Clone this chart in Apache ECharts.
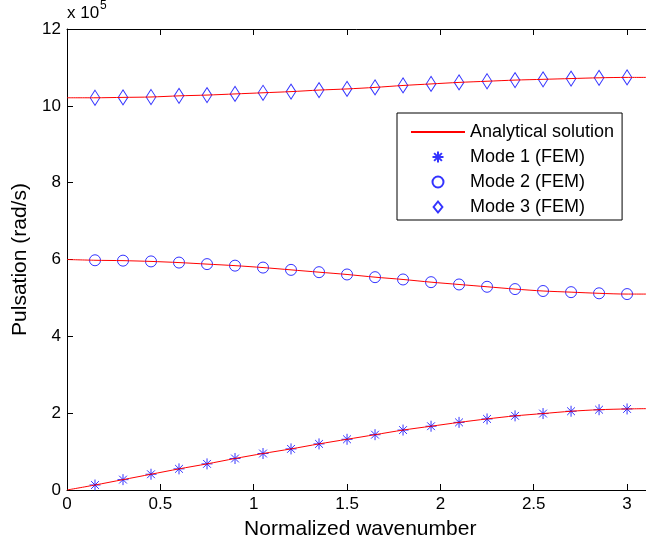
<!DOCTYPE html>
<html>
<head>
<meta charset="utf-8">
<script src="https://cdn.jsdelivr.net/npm/echarts@6/dist/echarts.min.js"></script>
<style>html,body{margin:0;padding:0;background:#fff}#c{width:646px;height:546px}</style>
</head>
<body>
<div id="c"></div>
<script>
// Units: 10^5 rad/s
const xTicks = [0, 0.5, 1, 1.5, 2, 2.5, 3];
const yTicks = [0, 2, 4, 6, 8, 10, 12];
const anaX = [0, 0.15, 0.3, 0.45, 0.6, 0.75, 0.9, 1.05, 1.2, 1.35, 1.5, 1.65, 1.8, 1.95, 2.1, 2.25, 2.4, 2.55, 2.7, 2.85, 3.0, Math.PI];
const anaMode1 = [0, 0.13, 0.27, 0.41, 0.55, 0.68, 0.82, 0.95, 1.07, 1.20, 1.32, 1.44, 1.56, 1.66, 1.76, 1.85, 1.93, 1.99, 2.05, 2.09, 2.11, 2.12];
const anaMode2 = [6.00, 5.98, 5.97, 5.95, 5.92, 5.88, 5.84, 5.79, 5.73, 5.67, 5.61, 5.54, 5.48, 5.41, 5.35, 5.29, 5.23, 5.18, 5.15, 5.12, 5.10, 5.10];
const anaMode3 = [10.21, 10.21, 10.22, 10.23, 10.26, 10.28, 10.31, 10.34, 10.37, 10.41, 10.44, 10.48, 10.53, 10.57, 10.61, 10.64, 10.67, 10.69, 10.71, 10.73, 10.74, 10.74];
const femX = [0.15, 0.3, 0.45, 0.6, 0.75, 0.9, 1.05, 1.2, 1.35, 1.5, 1.65, 1.8, 1.95, 2.1, 2.25, 2.4, 2.55, 2.7, 2.85, 3.0];
const femMode1 = [0.13, 0.27, 0.41, 0.55, 0.68, 0.82, 0.95, 1.07, 1.20, 1.32, 1.44, 1.56, 1.66, 1.76, 1.85, 1.93, 1.99, 2.05, 2.09, 2.11];
const femMode2 = [5.98, 5.97, 5.95, 5.92, 5.88, 5.84, 5.79, 5.73, 5.67, 5.61, 5.54, 5.48, 5.41, 5.35, 5.29, 5.23, 5.18, 5.15, 5.12, 5.10];
const femMode3 = [10.21, 10.22, 10.23, 10.26, 10.28, 10.31, 10.34, 10.37, 10.41, 10.44, 10.48, 10.53, 10.57, 10.61, 10.64, 10.67, 10.69, 10.71, 10.73, 10.74];

const FONT = 'Liberation Sans, Arial, Helvetica, sans-serif';
const BLUE = '#0000ff', RED = '#ff0000';
const zip = (xs, ys) => xs.map((x, i) => [x, ys[i]]);
const ASTER = 'path://M5 0L5 10M0 5L10 5M1.46 1.46L8.54 8.54M8.54 1.46L1.46 8.54';
const DIAMOND = 'path://M6 0L12 7.5L6 15L0 7.5Z';

function mkAxis(extra) {
  return Object.assign({
    axisLine: {show: true, lineStyle: {color: '#000', width: 1}},
    axisTick: {show: true, inside: true, length: 6, lineStyle: {color: '#000', width: 1}},
    splitLine: {show: false}
  }, extra);
}

const chart = echarts.init(document.getElementById('c'));
chart.setOption({
  animation: false,
  backgroundColor: '#fff',
  textStyle: {fontFamily: FONT},
  grid: {left: 67, top: 29, width: 586.5, height: 461, outerBoundsMode: 'none'},
  xAxis: [
    mkAxis({
      type: 'value', min: 0, max: Math.PI, interval: 0.5, position: 'bottom',
      name: 'Normalized wavenumber', nameLocation: 'middle', nameGap: 29,
      nameTextStyle: {fontSize: 21, color: '#000', fontFamily: FONT},
      axisLabel: {fontSize: 17, color: '#000', margin: 6, showMaxLabel: false, fontFamily: FONT,
        formatter: v => (xTicks.includes(Math.round(v * 100) / 100) ? String(Math.round(v * 100) / 100) : '')}
    }),
    mkAxis({
      type: 'value', min: 0, max: Math.PI, interval: 0.5, position: 'top',
      axisLabel: {show: false}
    })
  ],
  yAxis: [
    mkAxis({
      type: 'value', min: 0, max: 12, interval: 2, position: 'left',
      name: 'Pulsation (rad/s)', nameLocation: 'middle', nameGap: 30, nameRotate: 90,
      nameTextStyle: {fontSize: 21, color: '#000', fontFamily: FONT},
      axisLabel: {fontSize: 17, color: '#000', margin: 6, fontFamily: FONT,
        formatter: v => (yTicks.includes(v) ? String(v) : '')}
    })
  ],
  legend: {
    orient: 'vertical', left: 397, top: 113,
    padding: [10, 8, 4, 13], itemWidth: 54, itemHeight: 11, itemGap: 7,
    borderColor: '#000', borderWidth: 1, backgroundColor: '#fff',
    selectedMode: false, symbolKeepAspect: true,
    textStyle: {fontSize: 18, color: '#000', fontFamily: FONT},
    data: [
      {name: 'Analytical solution', itemStyle: {color: 'rgba(0,0,0,0)', borderColor: 'rgba(0,0,0,0)', borderWidth: 0}},
      'Mode 1 (FEM)', 'Mode 2 (FEM)', 'Mode 3 (FEM)'
    ]
  },
  graphic: [
    {type: 'text', left: 67, top: 5, style: {text: 'x 10', fontSize: 17, fontFamily: FONT, fill: '#000'}},
    {type: 'text', left: 100, top: 0, style: {text: '5', fontSize: 12, fontFamily: FONT, fill: '#000'}}
  ],
  series: [
    {name: 'Mode 1 (FEM)', type: 'scatter', data: zip(femX, femMode1), symbol: ASTER, symbolSize: 11,
      itemStyle: {color: BLUE, borderColor: BLUE, borderWidth: 1}},
    {name: 'Mode 2 (FEM)', type: 'scatter', data: zip(femX, femMode2), symbol: 'circle', symbolSize: 11,
      itemStyle: {color: 'rgba(0,0,0,0)', borderColor: BLUE, borderWidth: 1}},
    {name: 'Mode 3 (FEM)', type: 'scatter', data: zip(femX, femMode3), symbol: DIAMOND, symbolSize: [12, 15],
      symbolKeepAspect: true,
      itemStyle: {color: 'rgba(0,0,0,0)', borderColor: BLUE, borderWidth: 1}},
    {name: 'Analytical solution', type: 'line', data: zip(anaX, anaMode1), showSymbol: false, symbol: 'none', smooth: 0.3,
      lineStyle: {color: RED, width: 1}, itemStyle: {color: RED}},
    {name: 'Analytical solution', type: 'line', data: zip(anaX, anaMode2), showSymbol: false, symbol: 'none', smooth: 0.3,
      lineStyle: {color: RED, width: 1}, itemStyle: {color: RED}},
    {name: 'Analytical solution', type: 'line', data: zip(anaX, anaMode3), showSymbol: false, symbol: 'none', smooth: 0.3,
      lineStyle: {color: RED, width: 1}, itemStyle: {color: RED}}
  ]
});
</script>
</body>
</html>
